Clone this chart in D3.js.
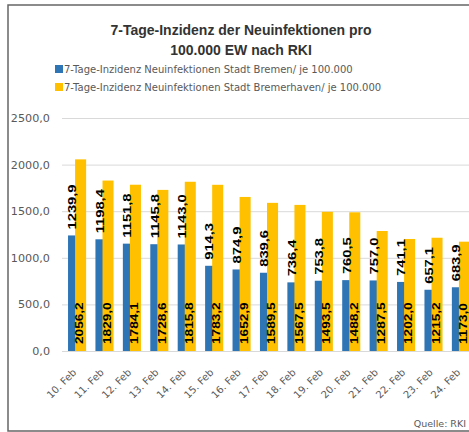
<!DOCTYPE html>
<html>
<head>
<meta charset="utf-8">
<script src="https://cdn.jsdelivr.net/npm/d3@7"></script>
<style>
  html, body { margin: 0; padding: 0; background: #fff; }
  svg { display: block; }
  .tick text { fill: #595959; }
</style>
</head>
<body>
<svg id="chart" width="469" height="432"></svg>
<script>
// data
const days = ["10. Feb", "11. Feb", "12. Feb", "13. Feb", "14. Feb", "15. Feb", "16. Feb", "17. Feb",
  "18. Feb", "19. Feb", "20. Feb", "21. Feb", "22. Feb", "23. Feb", "24. Feb"];
const bremen = [1239.9, 1198.4, 1151.8, 1145.8, 1143.0, 914.3, 874.9, 839.6, 736.4, 753.8, 760.5, 757.0, 741.1, 657.1, 683.9];
const bremerhaven = [2056.2, 1829.0, 1784.1, 1728.6, 1815.8, 1783.2, 1652.9, 1589.5, 1567.5, 1493.5, 1488.2, 1287.5, 1202.0, 1215.2, 1173.0];
const yTicks = [0, 500, 1000, 1500, 2000, 2500];
const seriesNames = ["7-Tage-Inzidenz Neuinfektionen Stadt Bremen/ je 100.000",
  "7-Tage-Inzidenz Neuinfektionen Stadt Bremerhaven/ je 100.000"];
const titleLines = ["7-Tage-Inzidenz der Neuinfektionen pro", "100.000 EW nach RKI"];

const BLUE = "#2e75b6", YELLOW = "#ffc000";
const fmt = d3.formatLocale({decimal: ",", thousands: ".", grouping: [3], currency: ["", "€"]}).format(".1f");

const svg = d3.select("#chart");
const W = 469;

const y = d3.scaleLinear().domain([0, 2500]).range([351, 118]);
const x = d3.scaleBand()
  .domain(days)
  .range([62, 476])
  .paddingInner(0.34)
  .paddingOuter(0.22);

const bw = x.bandwidth();
const barW = bw * 0.61;        // yellow overlaps the blue bar a bit
const yOff = bw - barW;

// frame (screenshot border)
svg.append("path")
  .attr("d", `M${W},5 H8 V431 H${W}`)
  .attr("fill", "none")
  .attr("stroke", "#666")
  .attr("stroke-width", 1.5);

// gridlines
const grid = svg.append("g")
  .attr("transform", "translate(62,0)")
  .call(d3.axisLeft(y).tickValues(yTicks).tickSize(-(W - 62)).tickFormat(""));
grid.select(".domain").remove();
grid.selectAll(".tick line").attr("stroke", "#d9d9d9");

// y labels
const yAxis = svg.append("g")
  .attr("transform", "translate(50,0)")
  .call(d3.axisLeft(y).tickValues(yTicks).tickSize(0).tickPadding(0).tickFormat(fmt));
yAxis.select(".domain").remove();
yAxis.selectAll("text")
  .attr("font-family", "DejaVu Sans")
  .attr("font-size", 11.2);

// x labels
const xAxis = svg.append("g")
  .attr("transform", "translate(0,351)")
  .call(d3.axisBottom(x).tickSize(0));
xAxis.select(".domain").remove();
xAxis.selectAll("text")
  .attr("font-family", "DejaVu Sans")
  .attr("font-size", 10)
  .attr("text-anchor", "end")
  .attr("x", 0).attr("y", 0).attr("dy", 0)
  .attr("transform", "translate(0,22) rotate(-45)");

// bars
const groups = svg.selectAll(".group")
  .data(days)
  .enter().append("g")
  .attr("class", "group");

groups.append("rect")
  .attr("x", d => x(d))
  .attr("y", (d, i) => y(bremen[i]))
  .attr("width", barW)
  .attr("height", (d, i) => y(0) - y(bremen[i]))
  .attr("fill", BLUE);

groups.append("rect")
  .attr("x", d => x(d) + yOff)
  .attr("y", (d, i) => y(bremerhaven[i]))
  .attr("width", barW)
  .attr("height", (d, i) => y(0) - y(bremerhaven[i]))
  .attr("fill", YELLOW);

// value labels, rotated and stretched like in the picture
groups.append("text")
  .text((d, i) => fmt(bremen[i]))
  .attr("transform", (d, i) => `translate(${x(d) + yOff / 2 + 1},${y(bremen[i]) - 6}) rotate(-90) scale(1.4,1)`)
  .attr("dy", "0.36em")
  .attr("font-family", "Liberation Sans")
  .attr("font-weight", "bold")
  .attr("font-size", 10.5)
  .attr("fill", "#000");

groups.append("text")
  .text((d, i) => fmt(bremerhaven[i]))
  .attr("transform", d => `translate(${x(d) + yOff + barW / 2 - 1},${y(0) - 7}) rotate(-90) scale(1.3,1)`)
  .attr("dy", "0.36em")
  .attr("font-family", "Liberation Sans")
  .attr("font-weight", "bold")
  .attr("font-size", 10.5)
  .attr("fill", "#000");

// title
svg.selectAll(".title")
  .data(titleLines)
  .enter().append("text")
  .attr("class", "title")
  .attr("x", 241)
  .attr("y", (d, i) => 35 + i * 20)
  .attr("text-anchor", "middle")
  .attr("font-family", "Liberation Sans")
  .attr("font-weight", "bold")
  .attr("font-size", 14)
  .attr("fill", "#333")
  .text(d => d);

// legend
const legend = svg.selectAll(".legend")
  .data(seriesNames)
  .enter().append("g")
  .attr("class", "legend")
  .attr("transform", (d, i) => `translate(55,${65 + i * 18})`);

legend.append("rect")
  .attr("width", 8).attr("height", 8)
  .attr("fill", (d, i) => i === 0 ? BLUE : YELLOW);

legend.append("text")
  .attr("x", 9)
  .attr("y", 8)
  .attr("font-family", "DejaVu Sans")
  .attr("font-size", 10)
  .attr("fill", "#595959")
  .text(d => d);

// source
svg.append("text")
  .attr("x", 466)
  .attr("y", 427)
  .attr("text-anchor", "end")
  .attr("font-family", "DejaVu Sans")
  .attr("font-size", 9.5)
  .attr("fill", "#595959")
  .text("Quelle: RKI");
</script>
</body>
</html>
